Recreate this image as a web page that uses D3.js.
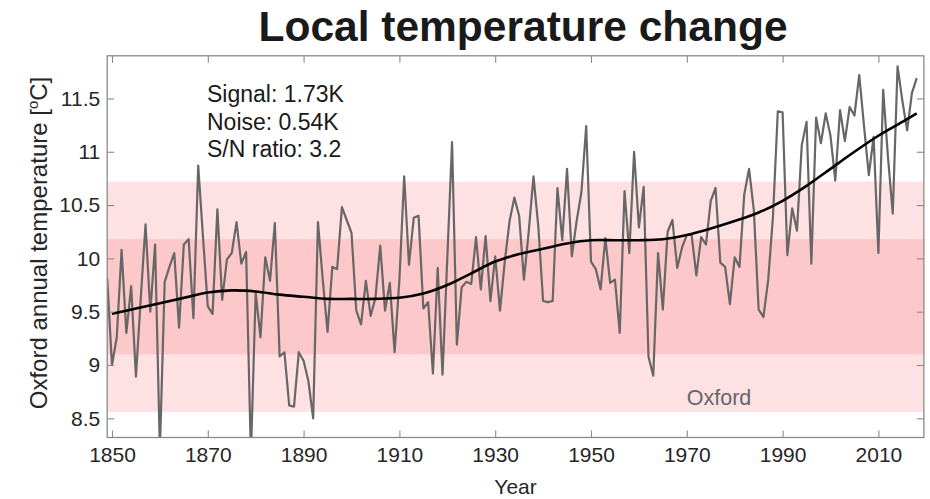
<!DOCTYPE html>
<html><head><meta charset="utf-8">
<script src="https://cdn.jsdelivr.net/npm/d3@7"></script>
<style>
body{margin:0;background:#fff;}
svg{display:block;font-family:"Liberation Sans",Arial,Helvetica,sans-serif;}
</style></head>
<body>
<svg id="chart" width="930" height="499"></svg>
<script>
// ---------- data ----------
const firstYear = 1849;
const annualTemp = [
 9.81,
 9.00, 9.26,10.08, 9.30, 9.74, 8.89, 9.62,10.32, 9.50,10.13,
 8.20, 9.78, 9.92,10.05, 9.35,10.13,10.18, 9.44,10.87,10.20,
 9.55, 9.48,10.46, 9.61, 9.99,10.05,10.34, 9.95,10.06, 8.15,
 9.68, 9.26,10.01, 9.79,10.33, 9.08, 9.12, 8.62, 8.61, 9.12,
 9.04, 8.85, 8.50,10.34, 9.80, 9.31, 9.92, 9.90,10.48,10.36,
10.24, 9.51, 9.38, 9.79, 9.46, 9.63,10.12, 9.51, 9.77, 9.12,
 9.80,10.77, 9.94,10.38,10.40, 9.53, 9.59, 8.92, 9.91, 8.91,
10.00,11.09, 9.19, 9.73, 9.78, 9.76,10.20, 9.71,10.21, 9.60,
10.02, 9.51, 9.97,10.35,10.57,10.40, 9.80,10.25,10.77,10.30,
 9.60, 9.59, 9.60,10.66,10.17,10.84,10.02,10.35,10.62,11.24,
 9.97, 9.90, 9.71,10.19, 9.77, 9.80, 9.30,10.63,10.05,11.00,
10.29,10.67, 9.08, 8.90,10.05, 9.52,10.25,10.36, 9.91,10.10,
10.22,10.22, 9.84,10.20,10.13,10.54,10.66, 9.96, 9.92, 9.57,
10.01, 9.92,10.60,10.84,10.45, 9.52, 9.45, 9.80,10.40,11.38,
11.37,10.03,10.47,10.26,11.06,11.28, 9.95,11.32,11.08,11.36,
11.15,10.73,11.39,11.10,11.42,11.34,11.72,11.24,10.78,11.14,
10.05,11.58,10.95,10.42,11.80,11.48,11.20,11.55,11.69
];
const smoothYears = [1850,1855,1860,1865,1870,1875,1880,1885,1890,1895,1900,1905,1910,1915,1920,1925,1930,1935,1940,1945,1950,1955,1960,1965,1970,1975,1980,1985,1990,1995,2000,2005,2010,2015,2018];
const smoothTemp  = [9.48,9.53,9.58,9.63,9.68,9.70,9.69,9.66,9.64,9.62,9.62,9.62,9.63,9.67,9.75,9.86,9.97,10.04,10.09,10.14,10.17,10.17,10.17,10.18,10.22,10.28,10.35,10.43,10.54,10.68,10.84,11.00,11.15,11.28,11.36];
const bandMean = 9.64;
const noise = 0.54;
const xTickYears = [1850,1870,1890,1910,1930,1950,1970,1990,2010];
const yTickValues = [8.5,9,9.5,10,10.5,11,11.5];
const annotLines = ["Signal: 1.73K","Noise: 0.54K","S/N ratio: 3.2"];
const titleText = "Local temperature change";
const stationName = "Oxford";

// ---------- layout ----------
const svg = d3.select("#chart");
const L = 107.2, R = 923.9, T = 55.8, B = 437.5;
const x = d3.scaleLinear().domain([1849, 2019.5]).range([L, R]);
const y = d3.scaleLinear().domain([8.32, 11.9]).range([B, T]);

const annual = annualTemp.map((v,i)=>({year:firstYear+i, v}));
const smooth = smoothYears.map((yr,i)=>({year:yr, v:smoothTemp[i]}));

svg.append("defs").append("clipPath").attr("id","plotclip")
  .append("rect").attr("x",L).attr("y",T).attr("width",R-L).attr("height",B-T);

// bands
const bands = [
  {lo:bandMean-2*noise, hi:bandMean+2*noise, color:"#fde1e3"},
  {lo:bandMean-noise,   hi:bandMean+noise,   color:"#fcc8ca"}
];
svg.selectAll("rect.band").data(bands).join("rect")
  .attr("class","band")
  .attr("x",L).attr("width",R-L)
  .attr("y",d=>y(d.hi)).attr("height",d=>y(d.lo)-y(d.hi))
  .attr("fill",d=>d.color);

// station label
svg.append("text").attr("x",x(1970)).attr("y",y(8.625))
  .attr("font-size",21.5).attr("fill","#666").text(stationName);

// lines
const g = svg.append("g").attr("clip-path","url(#plotclip)");
g.append("path").datum(annual)
  .attr("d", d3.line().x(d=>x(d.year)).y(d=>y(d.v)))
  .attr("fill","none").attr("stroke","#686666").attr("stroke-width",2.2)
  .attr("stroke-linejoin","round");
g.append("path").datum(smooth)
  .attr("d", d3.line().curve(d3.curveCatmullRom).x(d=>x(d.year)).y(d=>y(d.v)))
  .attr("fill","none").attr("stroke","#000").attr("stroke-width",2.6);

// axes
const axCol = "#8a8a8a";
function styleAxis(sel){
  sel.select(".domain").remove();
  sel.selectAll(".tick line").attr("stroke",axCol).attr("stroke-width",1.1);
  sel.selectAll(".tick text").attr("fill","#262626").attr("font-size",21)
     .attr("font-family",'"Liberation Sans",Arial,Helvetica,sans-serif');
}
const fmtY = d3.format("");
svg.append("g").attr("transform",`translate(0,${B})`)
  .call(d3.axisBottom(x).tickValues(xTickYears).tickFormat(d3.format("d")).tickSize(-7).tickPadding(10))
  .call(styleAxis);
svg.append("g").attr("transform",`translate(0,${T})`)
  .call(d3.axisTop(x).tickValues(xTickYears).tickFormat("").tickSize(-7))
  .call(styleAxis);
svg.append("g").attr("transform",`translate(${L},0)`)
  .call(d3.axisLeft(y).tickValues(yTickValues).tickFormat(fmtY).tickSize(-7).tickPadding(7))
  .call(styleAxis);
svg.append("g").attr("transform",`translate(${R},0)`)
  .call(d3.axisRight(y).tickValues(yTickValues).tickFormat("").tickSize(-7))
  .call(styleAxis);

svg.append("rect").attr("x",L).attr("y",T).attr("width",R-L).attr("height",B-T)
  .attr("fill","none").attr("stroke",axCol).attr("stroke-width",1.3);

// annotation
svg.append("g").selectAll("text").data(annotLines).join("text")
  .attr("x",207).attr("y",(d,i)=>102+i*27.6)
  .attr("font-size",23).attr("fill","#1a1a1a").text(d=>d);

// title
svg.append("text").attr("x",523).attr("y",41).attr("text-anchor","middle")
  .attr("font-size",42.5).attr("font-weight","bold").attr("fill","#1a1a1a").text(titleText);

// axis labels
svg.append("text").attr("x",(L+R)/2).attr("y",494).attr("text-anchor","middle")
  .attr("font-size",21).attr("fill","#262626").text("Year");
const yl = svg.append("text").attr("transform","translate(47,243) rotate(-90)")
  .attr("text-anchor","middle").attr("font-size",24).attr("fill","#262626");
yl.append("tspan").text("Oxford annual temperature [");
yl.append("tspan").attr("font-size",15).attr("dy",-9).text("o");
yl.append("tspan").attr("dy",9).text("C]");
</script>
</body></html>
